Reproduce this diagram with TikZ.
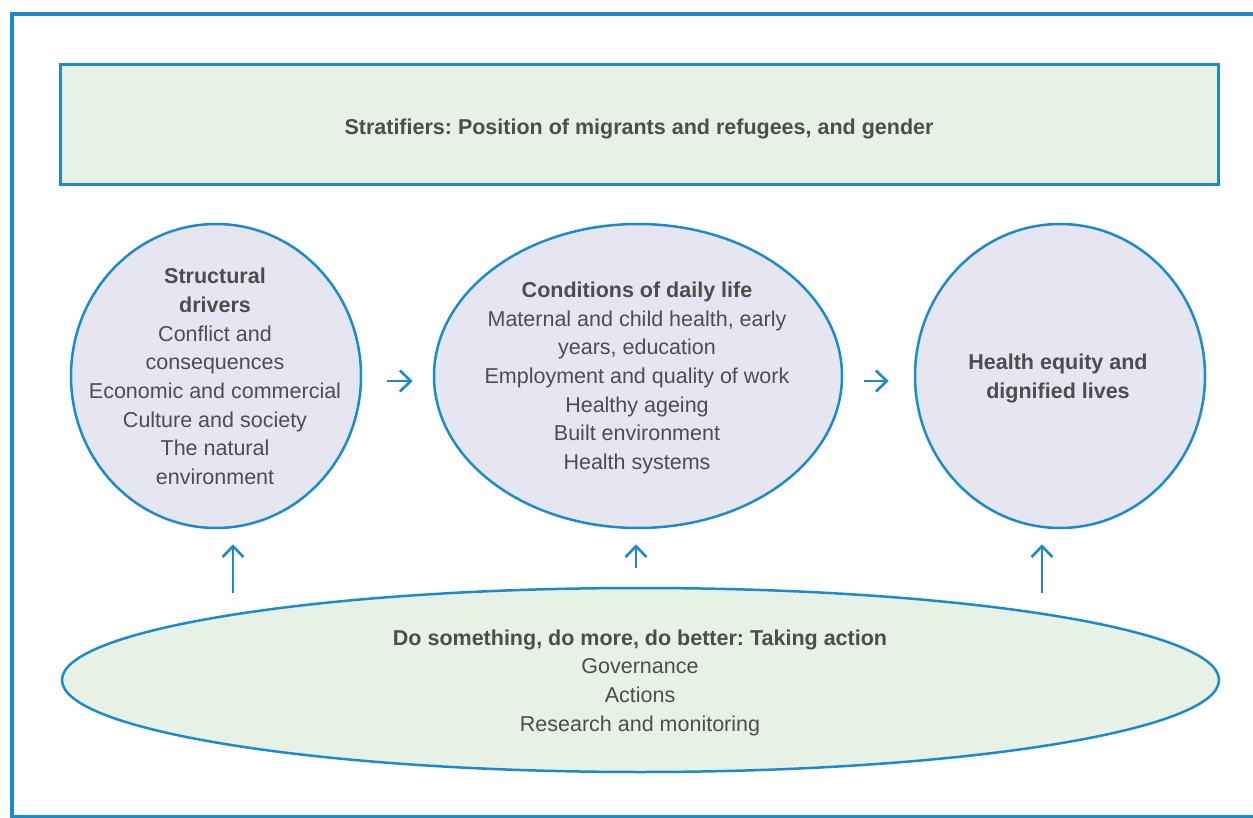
\documentclass[tikz,border=0pt]{standalone}
\usepackage{fontspec}
\setmainfont{Liberation Sans}
\usepackage{xcolor}
\usepackage{tikz}
\usetikzlibrary{
	shapes.geometric,arrows.meta
}
\definecolor{frameblue}{HTML}{1B8BCE}
\definecolor{palegreen}{HTML}{E7F1E5}
\definecolor{palelilac}{HTML}{E6E6F2}
\definecolor{textgray}{HTML}{4D4D4D}
\frenchspacing

\begin{document}
\begin{tikzpicture}[x=1pt,y=-1pt,
		txt/.style={text=textgray,align=center,font=\fontsize{21.5}{28.7}\selectfont},
		bubble/.style={ellipse,draw=frameblue,line width=2.5pt,fill=palelilac,inner sep=0pt},
		greenbox/.style={rectangle,draw=frameblue,line width=3pt,fill=palegreen,inner sep=0pt}]
		\useasboundingbox (0,0) rectangle (1253,818);
		\draw[frameblue,line width=4.5pt] (1260,14) -- (12,14) -- (12,817) -- (1260,817);
		%
		\node[greenbox,minimum width=1158.5pt,minimum height=120.5pt] (ST) at (639.25,124.75) {};
		\node[bubble,minimum width=290pt,minimum height=304pt] (SD) at (216,376) {};
		\node[bubble,minimum width=408pt,minimum height=304pt] (CDL) at (638,376) {};
		\node[bubble,minimum width=290pt,minimum height=304pt] (HE) at (1060,376) {};
		\node[ellipse,draw=frameblue,line width=2.5pt,fill=palegreen,inner sep=0pt,
			minimum width=1157pt,minimum height=184pt] (DO) at (640.5,680) {};
		%
		\node[txt] (STt) at (639,128.5) {\textbf{Stratifiers: Position of migrants and refugees, and gender}};
		\node[txt] (SDt) at (215,376.5) {\textbf{Structural}\\\textbf{drivers}\\Conflict and\\consequences\\
			Economic and commercial\\Culture and society\\The natural\\environment};
		\node[txt] (CDLt) at (637,378) {\textbf{Conditions of daily life}\\Maternal and child health, early\\
			years, education\\Employment and quality of work\\Healthy ageing\\Built environment\\Health systems};
		\node[txt] (HEt) at (1058,378.5) {\textbf{Health equity and}\\\textbf{dignified lives}};
		\node[txt] (DOt) at (640,682.5) {\textbf{Do something, do more, do better: Taking action}\\
			Governance\\Actions\\Research and monitoring};
		%
		\coordinate (up1) at (233,593);
		\coordinate (up2) at (636,568);
		\coordinate (up3) at (1042,593);
		\path[-{Straight Barb[length=11pt,width=21pt]},color=frameblue,line width=2.6pt]
			([xshift=25pt,yshift=-5pt]SD.east) edge ([xshift=-20pt,yshift=-5pt]CDL.west)
			([xshift=21pt,yshift=-5pt]CDL.east) edge ([xshift=-25pt,yshift=-5pt]HE.west)
			(up1) edge[shorten >=15pt] (SD.south -| up1)
			(up2) edge[shorten >=15pt] (CDL.south -| up2)
			(up3) edge[shorten >=15pt] (HE.south -| up3);
	\end{tikzpicture}
\end{document}
